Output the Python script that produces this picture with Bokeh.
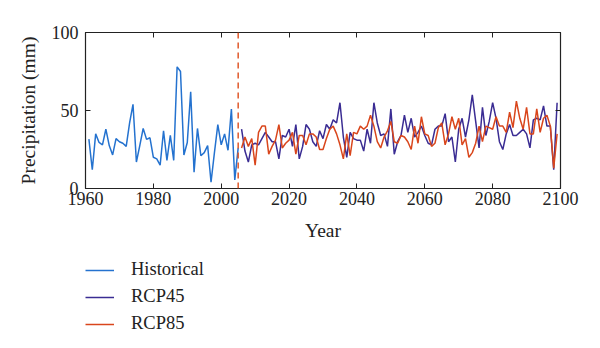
from bokeh.plotting import figure
from bokeh.layouts import column
from bokeh.models import (Range1d, FixedTicker, LinearAxis, Span, Legend, LegendItem)
from bokeh.embed import file_html
from bokeh.resources import INLINE

hist_years = list(range(1961, 2006))
hist_vals = [31.6, 12, 35, 29.5, 28, 38, 27.5, 21.5, 32, 30, 29, 27, 42, 54, 17,
             27.5, 38.5, 31.5, 32.5, 20, 19, 15, 37, 18, 34, 18, 78, 75, 21.5, 29.5,
             62, 10.5, 38.5, 21, 23, 27.5, 4, 23, 41, 28, 35, 24.5, 51, 5.5, 26]

rcp_years = list(range(2006, 2100))
rcp45_vals = [38, 24, 17, 28, 29, 28, 32, 36, 33, 30, 30, 19, 34, 33, 38, 27, 41, 19, 27, 41,
              38, 30, 27, 37, 32, 41, 38, 44, 42, 55, 33, 20, 36, 32, 31, 31, 24, 38, 29, 55,
              42, 34, 35, 27, 51, 22, 30, 34, 47, 36, 45, 33, 36, 40, 34, 29, 28, 38, 40, 40,
              48, 30, 33, 17, 38, 45, 33, 44, 60, 43, 26, 52, 34, 43, 55, 45, 30, 25, 35, 41,
              34, 34, 36, 38, 35, 26, 44, 45, 44, 53, 40, 40, 12, 55]
rcp85_vals = [26, 33, 27, 32, 15, 36, 40, 40, 22, 27, 31, 41, 26, 29, 31, 36, 22, 34, 34, 28,
              35, 35, 33, 25, 25, 32, 38, 40, 35, 28, 19, 35, 21, 36, 35, 40, 38, 40, 47, 40,
              30, 26, 33, 37, 43, 30, 29, 34, 33, 30, 25, 40, 29, 46, 35, 34, 27, 29, 39, 42,
              28, 35, 46, 38, 45, 28, 32, 20, 23, 29, 40, 30, 40, 39, 38, 46, 40, 40, 36, 49,
              39, 56, 45, 38, 52, 35, 35, 51, 36, 45, 47, 40, 13, 35]

series_names = ["Historical", "RCP45", "RCP85"]
x_ticks = [1960, 1980, 2000, 2020, 2040, 2060, 2080, 2100]
y_ticks = [0, 50, 100]
split_year = 2005

FONT = "Liberation Serif"
C_HIST = "#2472cf"
C_45 = "#3a2c93"
C_85 = "#d9461c"
INK = "#222222"

p = figure(width=600, height=250, output_backend="svg", toolbar_location=None,
           x_range=Range1d(1960, 2100), y_range=Range1d(0, 100),
           min_border_left=85, min_border_right=40, min_border_top=32, min_border_bottom=62)
p.background_fill_color = "white"
p.border_fill_color = "white"
p.outline_line_color = INK
p.outline_line_width = 1.2
p.grid.visible = False

def style_axis(ax):
    ax.major_tick_in = 5
    ax.major_tick_out = 0
    ax.minor_tick_in = 0
    ax.minor_tick_out = 0
    ax.axis_line_color = INK
    ax.major_tick_line_color = INK
    ax.major_label_text_font = FONT
    ax.major_label_text_font_size = "18px"
    ax.major_label_text_color = INK
    ax.axis_label_text_font = FONT
    ax.axis_label_text_font_size = "19.5px"
    ax.axis_label_text_font_style = "normal"
    ax.axis_label_text_color = INK

p.xaxis.ticker = FixedTicker(ticks=x_ticks)
p.yaxis.ticker = FixedTicker(ticks=y_ticks)
for ax in p.xaxis:
    style_axis(ax)
    ax.major_label_standoff = 3
    ax.axis_label = "Year"
    ax.axis_label_standoff = 12
for ax in p.yaxis:
    style_axis(ax)
    ax.major_label_standoff = 7
    ax.axis_label = "Precipitation (mm)"
    ax.axis_label_standoff = 10

top = LinearAxis(ticker=FixedTicker(ticks=x_ticks),
                 major_label_overrides={t: "" for t in x_ticks})
style_axis(top)
top.major_label_standoff = 0
p.add_layout(top, "above")
right = LinearAxis(ticker=FixedTicker(ticks=y_ticks),
                   major_label_overrides={t: "" for t in y_ticks})
style_axis(right)
right.major_label_standoff = 0
p.add_layout(right, "right")

p.line(hist_years, hist_vals, line_color=C_HIST, line_width=1.5)
p.line(rcp_years, rcp45_vals, line_color=C_45, line_width=1.5)
p.line(rcp_years, rcp85_vals, line_color=C_85, line_width=1.5)

p.add_layout(Span(location=split_year, dimension="height", line_color="#e0582a",
                  line_width=1.5, line_dash="6 4"))

# legend panel below the chart (its frame is aligned with the chart's frame)
q = figure(width=600, height=98, output_backend="svg", toolbar_location=None,
           x_range=Range1d(0, 1), y_range=Range1d(0, 1),
           min_border_left=85, min_border_right=40, min_border_top=0, min_border_bottom=0)
q.axis.visible = False
q.grid.visible = False
q.outline_line_color = None
q.background_fill_color = "white"
q.border_fill_color = "white"
items = []
# series drawn in the legend panel fall outside its 0..1 range; only the legend glyphs show
for name, col, xs, ys in zip(series_names, [C_HIST, C_45, C_85],
                             [hist_years, rcp_years, rcp_years],
                             [hist_vals, rcp45_vals, rcp85_vals]):
    r = q.line(xs, ys, line_color=col, line_width=1.5)
    items.append(LegendItem(label=name, renderers=[r]))

legend = Legend(items=items, location=(0, 14), orientation="vertical",
                glyph_width=29, glyph_height=20, label_height=20, label_standoff=17,
                spacing=6, padding=0, margin=0,
                label_text_font=FONT, label_text_font_size="18.5px",
                label_text_color=INK,
                border_line_color=None, background_fill_alpha=0)
q.add_layout(legend, "center")

layout = column(p, q, spacing=0)
open("out.html", "w").write(file_html(layout, INLINE))
